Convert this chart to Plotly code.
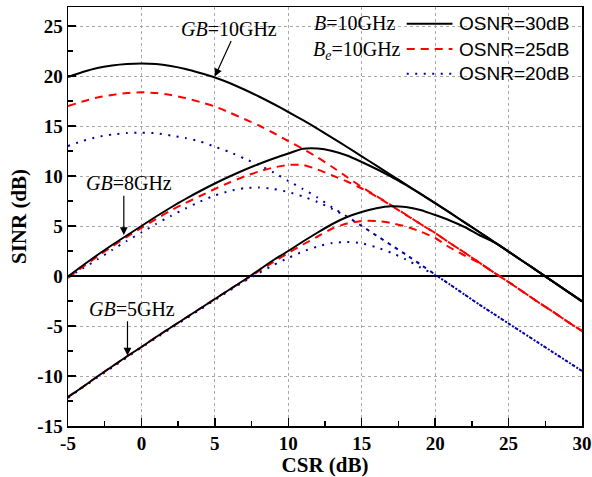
import plotly.graph_objects as go

# ---------------- data ----------------
csr = list(range(-5, 31))  # CSR (dB)

# GB = 10 GHz
gb10_osnr30 = [19.9, 20.4, 20.8, 21.05, 21.2, 21.25, 21.2, 21.0, 20.7, 20.3,
               19.85, 19.3, 18.65, 17.95, 17.2, 16.4, 15.58, 14.72, 13.82, 12.9,
               11.97, 11.03, 10.1, 9.17, 8.23, 7.29, 6.33, 5.37, 4.4, 3.42,
               2.44, 1.45, 0.46, -0.53, -1.53, -2.53]
gb10_osnr25 = [17.0, 17.45, 17.85, 18.1, 18.3, 18.37, 18.3, 18.1, 17.8, 17.4,
               16.95, 16.35, 15.7, 15.05, 14.3, 13.5, 12.7, 11.85, 10.9, 9.9,
               8.9, 8.0, 7.1, 6.15, 5.2, 4.3, 3.3, 2.35, 1.35, 0.35,
               -0.6, -1.6, -2.6, -3.55, -4.55, -5.5]
gb10_osnr20 = [13.0, 13.5, 13.9, 14.15, 14.3, 14.33, 14.27, 14.05, 13.8, 13.45,
               12.93, 12.4, 11.75, 11.1, 10.35, 9.5, 8.7, 7.85, 6.85, 5.95,
               5.0, 4.05, 3.1, 2.15, 1.15, 0.15, -0.85, -1.85, -2.85, -3.8,
               -4.75, -5.7, -6.65, -7.6, -8.55, -9.5]

# GB = 8 GHz
gb8_osnr30 = [-0.05, 1.05, 2.1, 3.1, 4.05, 5.0, 5.95, 6.85, 7.7, 8.5,
              9.25, 9.95, 10.6, 11.2, 11.75, 12.25, 12.72, 12.75, 12.5, 12.05,
              11.4, 10.7, 9.95, 9.1, 8.2, 7.29, 6.33, 5.37, 4.4, 3.42,
              2.44, 1.45, 0.46, -0.53, -1.53, -2.53]
gb8_osnr25 = [-0.2, 0.9, 1.95, 2.95, 3.9, 4.8, 5.7, 6.55, 7.3, 8.0,
              8.7, 9.35, 9.95, 10.45, 10.85, 11.1, 11.1, 10.65, 10.05, 9.45,
              8.75, 7.95, 7.05, 6.12, 5.2, 4.3, 3.3, 2.35, 1.35, 0.35,
              -0.6, -1.6, -2.6, -3.55, -4.55, -5.5]
gb8_osnr20 = [-0.15, 0.75, 1.65, 2.6, 3.5, 4.35, 5.2, 6.0, 6.75, 7.45,
              8.05, 8.5, 8.78, 8.85, 8.7, 8.4, 7.95, 7.4, 6.7, 5.9,
              5.0, 4.05, 3.1, 2.15, 1.15, 0.15, -0.85, -1.85, -2.85, -3.8,
              -4.75, -5.7, -6.65, -7.6, -8.55, -9.5]

# GB = 5 GHz
gb5_osnr30 = [-12.1, -11.1, -10.05, -9.05, -8.05, -7.1, -6.1, -5.15, -4.2, -3.25,
              -2.3, -1.35, -0.4, 0.6, 1.6, 2.5, 3.45, 4.35, 5.2, 5.9,
              6.4, 6.78, 6.98, 6.9, 6.6, 6.1, 5.55, 4.9, 4.1, 3.38,
              2.44, 1.45, 0.46, -0.53, -1.53, -2.53]
gb5_osnr25 = [-12.1, -11.1, -10.05, -9.05, -8.05, -7.1, -6.1, -5.15, -4.2, -3.25,
              -2.3, -1.35, -0.45, 0.5, 1.4, 2.3, 3.15, 3.95, 4.75, 5.25,
              5.5, 5.5, 5.3, 4.95, 4.45, 3.8, 2.85, 2.05, 1.3, 0.35,
              -0.6, -1.6, -2.6, -3.55, -4.55, -5.5]
gb5_osnr20 = [-12.2, -11.15, -10.15, -9.15, -8.15, -7.15, -6.2, -5.25, -4.3, -3.35,
              -2.4, -1.45, -0.55, 0.3, 1.1, 1.8, 2.45, 2.95, 3.3, 3.4,
              3.27, 2.87, 2.33, 1.67, 0.85, 0.1, -0.85, -1.85, -2.85, -3.8,
              -4.75, -5.7, -6.65, -7.6, -8.55, -9.5]

x_tick_vals = [-5, 0, 5, 10, 15, 20, 25, 30]
x_tick_text = ["-5", "0", "5", "10", "15", "20", "25", "30"]
y_tick_vals = [-15, -10, -5, 0, 5, 10, 15, 20, 25]
y_tick_text = ["-15", "-10", "-5", "0", "5", "10", "15", "20", "25"]

osnr_labels = ["OSNR=30dB", "OSNR=25dB", "OSNR=20dB"]

# ---------------- styling ----------------
SERIF = "Liberation Serif"
SANS = "Liberation Sans"
styles = {
    "OSNR=30dB": dict(color="black", width=2, dash="solid"),
    "OSNR=25dB": dict(color="#ff0000", width=2, dash="8px,6px"),
    "OSNR=20dB": dict(color="#0000a8", width=2, dash="2px,6.5px"),
}

groups = [
    ("GB=10GHz", [gb10_osnr30, gb10_osnr25, gb10_osnr20]),
    ("GB=8GHz", [gb8_osnr30, gb8_osnr25, gb8_osnr20]),
    ("GB=5GHz", [gb5_osnr30, gb5_osnr25, gb5_osnr20]),
]

fig = go.Figure()
for k in [2, 1, 0]:
    for gname, series in groups:
        fig.add_trace(go.Scatter(
            x=csr, y=series[k], mode="lines",
            name=f"{gname}, {osnr_labels[k]}",
            line=dict(**styles[osnr_labels[k]], shape="spline", smoothing=0.6),
            showlegend=False,
        ))

# ---------------- in-plot legend (drawn by hand) ----------------
leg_rows_y = [0.960, 0.8995, 0.8405]
for lab, yy in zip(osnr_labels, leg_rows_y):
    st = styles[lab]
    fig.add_shape(type="line", xref="paper", yref="paper",
                  x0=0.659, x1=0.748, y0=yy, y1=yy,
                  line=dict(color=st["color"], width=st["width"], dash=st["dash"]))
    fig.add_annotation(xref="paper", yref="paper", x=0.757, y=yy,
                       text=lab, showarrow=False, xanchor="left", yanchor="middle",
                       font=dict(family=SANS, size=19, color="black"))

fig.add_annotation(xref="paper", yref="paper", x=0.6405, y=0.963,
                   text="<i>B</i>=10GHz", showarrow=False, xanchor="right",
                   yanchor="middle", font=dict(family=SERIF, size=20, color="black"))
fig.add_annotation(xref="paper", yref="paper", x=0.6516, y=0.897,
                   text="<i>B<sub>e</sub></i>=10GHz", showarrow=False, xanchor="right",
                   yanchor="middle", font=dict(family=SERIF, size=20, color="black"))

# ---------------- curve labels with arrows ----------------
NB = "\u00a0"
labels = [
    # text, text box centre (x, y), arrow head (x, y)
    ("<i>GB</i>=10GHz" + NB * 3, 6.5, 24.75, 5.0, 19.95),
    (NB * 2 + "<i>GB</i>=8GHz", -1.2, 9.27, -1.2, 4.1),
    (NB * 2 + "<i>GB</i>=5GHz", -0.95, -3.27, -0.95, -7.95),
]
for txt, tx, ty, hx, hy in labels:
    fig.add_annotation(x=hx, y=hy, ax=tx, ay=ty, axref="x", ayref="y",
                       text=txt, showarrow=True, arrowhead=2, arrowsize=1.3,
                       arrowwidth=1.2, arrowcolor="black", startstandoff=0,
                       font=dict(family=SERIF, size=20, color="black"))

axis_common = dict(
    showline=True, linecolor="black", linewidth=1.5, mirror=True,
    ticks="inside", ticklen=8, tickwidth=1.5, tickcolor="black",
    showgrid=True, gridcolor="#a8a8a8", gridwidth=1, griddash="dot",
    automargin=False,
    tickfont=dict(family=SERIF, size=19, color="black", weight="bold"),
)

fig.update_layout(
    width=592, height=477,
    margin=dict(l=68, r=10, t=7, b=51),
    plot_bgcolor="white", paper_bgcolor="white",
    hovermode=False,
    xaxis=dict(range=[-5, 30], tickvals=x_tick_vals, ticktext=x_tick_text,
               zeroline=False,
               minor=dict(dtick=2.5, tick0=-5, ticks="inside", ticklen=5,
                          tickwidth=1.5, tickcolor="black", showgrid=False),
               title=dict(text="CSR (dB)", standoff=10,
                          font=dict(family=SERIF, size=21, color="black", weight="bold")),
               **axis_common),
    yaxis=dict(range=[-15, 26.9], tickvals=y_tick_vals, ticktext=y_tick_text,
               zeroline=True, zerolinecolor="black", zerolinewidth=1.5,
               minor=dict(dtick=2.5, tick0=0, ticks="inside", ticklen=5,
                          tickwidth=1.5, tickcolor="black", showgrid=False),
               title=dict(text="SINR (dB)", standoff=5,
                          font=dict(family=SERIF, size=21, color="black", weight="bold")),
               **axis_common),
)

fig.write_html(
    "out.html",
    config={"displayModeBar": False, "staticPlot": True},
    post_script="document.body.style.margin='0';document.body.style.overflow='hidden';",
)
